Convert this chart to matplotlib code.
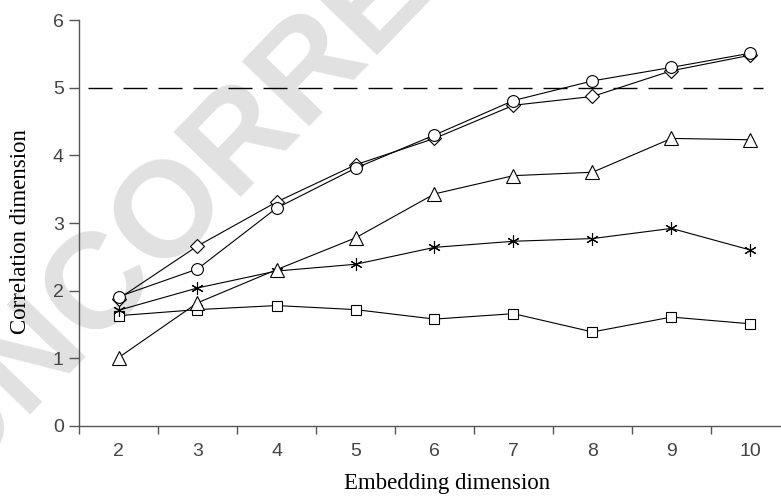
import numpy as np
import matplotlib
matplotlib.use('Agg')
from matplotlib import pyplot as plt

#  data
emb_dim = [2, 3, 4, 5, 6, 7, 8, 9, 10]
circles = [1.91, 2.32, 3.22, 3.81, 4.30, 4.81, 5.10, 5.30, 5.51]
diamonds = [1.88, 2.66, 3.31, 3.86, 4.25, 4.74, 4.87, 5.25, 5.48]
triangles = [1.01, 1.82, 2.31, 2.78, 3.43, 3.70, 3.75, 4.25, 4.23]
stars = [1.71, 2.04, 2.29, 2.39, 2.64, 2.73, 2.77, 2.92, 2.60]
squares = [1.63, 1.72, 1.78, 1.72, 1.58, 1.66, 1.39, 1.61, 1.51]
threshold = 5.0
y_ticks = [0, 1, 2, 3, 4, 5, 6]

fig = plt.figure(figsize=(7.81, 4.96), dpi=100)
ax = fig.add_axes([79 / 781, 70 / 496, 711 / 781, 406 / 496])
ax.set_facecolor('none')

#  watermark behind everything
fig.text(0.615, 1.205, 'UNCORRECTED PROOF', fontsize=98, fontweight='bold',
         family='Liberation Sans', color='#e1e1e1', rotation=46,
         rotation_mode='anchor', ha='center', va='center', zorder=-5)

x = np.array(emb_dim)
ax.hlines(threshold, 1.61, 10.16, colors='black', linewidth=1.0,
          linestyles=(0, (17.3, 7.9)), zorder=2)

mk = dict(color='black', linewidth=0.8, markerfacecolor='white',
          markeredgecolor='black', markeredgewidth=0.8, zorder=3)
ax.plot(x, squares, marker='s', markersize=7, **mk)
ax.plot(x, stars, marker=(6, 2, 0), markersize=9, **mk)
ax.plot(x, triangles, marker='^', markersize=10, **mk)
ax.plot(x, diamonds, marker='D', markersize=7, **mk)
ax.plot(x, circles, marker='o', markersize=8.5, **mk)

ax.set_xlim(1.5, 10.5)
ax.set_ylim(0, 6)

#  category style axis: ticks between categories, labels at centers
ax.set_xticks(np.arange(1.5, 10.6, 1.0))
ax.set_xticklabels([])
ax.set_xticks(x, minor=True)
ax.set_xticklabels([str(v) for v in emb_dim], minor=True,
                   family='Liberation Sans', fontsize=14, color='#444444')
ax.tick_params(axis='x', which='major', direction='out', length=6, width=1,
               color='#555555')
ax.tick_params(axis='x', which='minor', length=0, pad=12)

ax.set_yticks(y_ticks)
ax.set_yticklabels([str(v) for v in y_ticks], family='Liberation Sans',
                   fontsize=14, color='#444444')
ax.tick_params(axis='y', direction='out', length=7, width=1, color='#555555', pad=4)

for s in ['top', 'right']:
    ax.spines[s].set_visible(False)
for s in ['left', 'bottom']:
    ax.spines[s].set_color('#555555')
    ax.spines[s].set_linewidth(1.0)

fig.text(447 / 781, 12 / 496, 'Embedding dimension', family='Liberation Serif',
         fontsize=16.5, ha='center', va='center')
fig.text(21 / 781, (496 - 232) / 496, 'Correlation dimension', family='Liberation Serif',
         fontsize=16.5, ha='center', va='center', rotation=90)

fig.savefig('out.png', dpi=100)
